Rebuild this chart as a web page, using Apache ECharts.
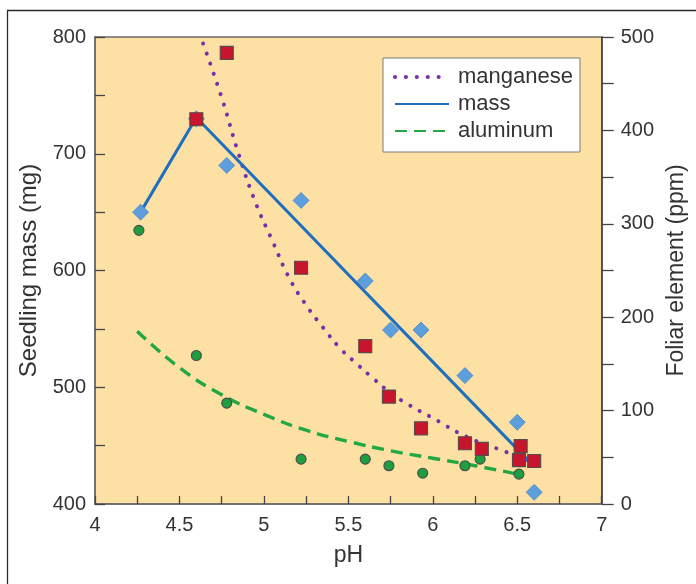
<!DOCTYPE html>
<html>
<head>
<meta charset="utf-8">
<script src="https://cdn.jsdelivr.net/npm/echarts@6/dist/echarts.min.js"></script>
<style>
html,body{margin:0;padding:0;background:#fff;}
#chart{width:696px;height:584px;}
</style>
</head>
<body>
<div id="chart"></div>
<script>
// ---- data ----
// seedling mass (mg, left axis) – blue diamonds
var massPH = [4.27, 4.6, 4.78, 5.22, 5.6, 5.75, 5.93, 6.19, 6.5, 6.6];
var massMg = [650, 730, 690, 660, 591, 549, 549, 510, 470, 410];
// mass line (left axis)
var massLinePH = [4.27, 4.6, 6.6];
var massLineMg = [650, 731, 432];
// foliar manganese (ppm, right axis) – red squares
var mnPH  = [4.6, 4.78, 5.22, 5.6, 5.74, 5.93, 6.19, 6.29, 6.52, 6.51, 6.6];
var mnPPM = [412, 483, 253, 169, 115, 81, 65, 59, 62, 47, 46];
// manganese fitted curve (dotted)
var mnCurvePH  = [4.64, 4.75, 4.85, 4.95, 5.05, 5.15, 5.25, 5.35, 5.45, 5.55, 5.65, 5.75, 5.85, 6.0, 6.2, 6.4, 6.5, 6.6];
var mnCurvePPM = [493, 435, 375, 323, 282, 242, 213, 189, 167, 150, 134, 119, 107, 92, 72, 58, 51, 44];
// foliar aluminum (ppm, right axis) – green circles
var alPH  = [4.26, 4.6, 4.78, 5.22, 5.6, 5.74, 5.94, 6.19, 6.28, 6.51];
var alPPM = [293, 159, 108, 48, 48, 41, 33, 41, 48, 32];
// aluminum fitted curve (dashed)
var alCurvePH  = [4.25, 4.5, 4.75, 5.0, 5.25, 5.5, 5.75, 6.0, 6.25, 6.5];
var alCurvePPM = [185, 146, 117, 96, 79, 67, 57, 49, 41, 32];
// axes
var xMin = 4, xMax = 7, xStep = 0.5;
var yLeftMin = 400, yLeftMax = 800, yLeftStep = 100;
var yRightMin = 0, yRightMax = 500, yRightStep = 100;

function zip(a, b) { return a.map(function (v, i) { return [v, b[i]]; }); }

var FONT = '"Liberation Sans", Arial, Helvetica, sans-serif';
var TXT = '#333';

var chart = echarts.init(document.getElementById('chart'), null, {renderer: 'canvas'});
chart.setOption({
  animation: false,
  backgroundColor: '#fff',
  textStyle: {fontFamily: FONT},
  graphic: [{
    type: 'rect', silent: true, z: -10,
    shape: {x: 7.5, y: 10.5, width: 720, height: 620},
    style: {fill: 'none', stroke: '#2a2a2a', lineWidth: 1.3}
  }],
  grid: {
    left: 95, right: 93, top: 37, bottom: 80,
    show: true, backgroundColor: '#fde0a3', borderColor: '#6a6a6a', borderWidth: 1.5
  },
  legend: {
    orient: 'vertical', left: 383, top: 58,
    backgroundColor: '#fff', borderColor: '#7a7a7a', borderWidth: 1,
    padding: [8, 7, 10, 10],
    itemWidth: 54, itemHeight: 14, itemGap: 5,
    itemStyle: {opacity: 0},
    textStyle: {fontSize: 22, color: TXT, fontFamily: FONT, padding: [0, 0, 0, 4]},
    data: [
      {name: 'manganese', lineStyle: {cap: 'round', width: 4, type: [0.1, 10.8]}},
      {name: 'mass'},
      {name: 'aluminum'}
    ]
  },
  xAxis: {
    type: 'value', min: xMin, max: xMax, interval: xStep,
    name: 'pH', nameLocation: 'middle', nameGap: 40,
    nameTextStyle: {fontSize: 23, color: TXT, fontFamily: FONT},
    axisLine: {show: true, lineStyle: {color: '#6a6a6a', width: 1.5}},
    axisTick: {show: true, inside: true, length: 8, lineStyle: {color: '#444', width: 1.3}},
    minorTick: {show: true, splitNumber: 2, length: 8, lineStyle: {color: '#444', width: 1.3}},
    axisLabel: {fontSize: 20, color: TXT, margin: 11, fontFamily: FONT},
    splitLine: {show: false}
  },
  yAxis: [{
    type: 'value', position: 'left', min: yLeftMin, max: yLeftMax, interval: yLeftStep,
    name: 'Seedling mass (mg)', nameLocation: 'middle', nameRotate: 90, nameGap: 36,
    nameTextStyle: {fontSize: 24, color: TXT, fontFamily: FONT},
    axisLine: {show: true, lineStyle: {color: '#6a6a6a', width: 1.5}},
    axisTick: {show: true, inside: true, length: 10, lineStyle: {color: '#444', width: 1.3}},
    minorTick: {show: true, splitNumber: 2, length: 10, lineStyle: {color: '#444', width: 1.3}},
    axisLabel: {fontSize: 20, color: TXT, margin: 9, fontFamily: FONT},
    splitLine: {show: false}
  }, {
    type: 'value', position: 'right', min: yRightMin, max: yRightMax, interval: yRightStep,
    name: 'Foliar element (ppm)', nameLocation: 'middle', nameRotate: 90, nameGap: 54,
    nameTextStyle: {fontSize: 23, color: TXT, fontFamily: FONT},
    axisLine: {show: true, lineStyle: {color: '#444', width: 1.6}},
    axisTick: {show: true, inside: false, length: 12, lineStyle: {color: '#444', width: 1.3}},
    minorTick: {show: true, splitNumber: 2, length: 12, lineStyle: {color: '#444', width: 1.3}},
    axisLabel: {fontSize: 20, color: TXT, margin: 19, fontFamily: FONT},
    splitLine: {show: false}
  }],
  series: [{
    name: 'aluminum', type: 'line', yAxisIndex: 1, smooth: 0.5, symbol: 'none', z: 2,
    data: zip(alCurvePH, alCurvePPM),
    lineStyle: {color: '#22a843', width: 3.4, type: [12, 7]},
    itemStyle: {color: '#22a843'}
  }, {
    name: 'manganese', type: 'line', yAxisIndex: 1, smooth: 0.5, symbol: 'none', z: 2,
    data: zip(mnCurvePH, mnCurvePPM),
    lineStyle: {color: '#7a2fa8', width: 4, type: [0.1, 10.6], cap: 'round'},
    itemStyle: {color: '#7a2fa8'}
  }, {
    name: 'mass', type: 'line', yAxisIndex: 0, symbol: 'none', z: 3,
    data: zip(massLinePH, massLineMg),
    lineStyle: {color: '#1f6fbf', width: 3},
    itemStyle: {color: '#1f6fbf'}
  }, {
    name: 'massPts', type: 'scatter', yAxisIndex: 0, symbol: 'diamond', symbolSize: 16, z: 4,
    data: zip(massPH, massMg),
    itemStyle: {color: '#5c9fdc', borderColor: '#4a88c8', borderWidth: 0.8, opacity: 1}
  }, {
    name: 'alPts', type: 'scatter', yAxisIndex: 1, symbol: 'circle', symbolSize: 10, z: 5,
    data: zip(alPH, alPPM),
    itemStyle: {color: '#1f9e40', borderColor: '#4a4a4a', borderWidth: 1.1, opacity: 1}
  }, {
    name: 'mnPts', type: 'scatter', yAxisIndex: 1, symbol: 'rect', symbolSize: 13, z: 6,
    data: zip(mnPH, mnPPM),
    itemStyle: {color: '#c8142c', borderColor: '#5a4a4a', borderWidth: 1.1, opacity: 1}
  }]
});
</script>
</body>
</html>
